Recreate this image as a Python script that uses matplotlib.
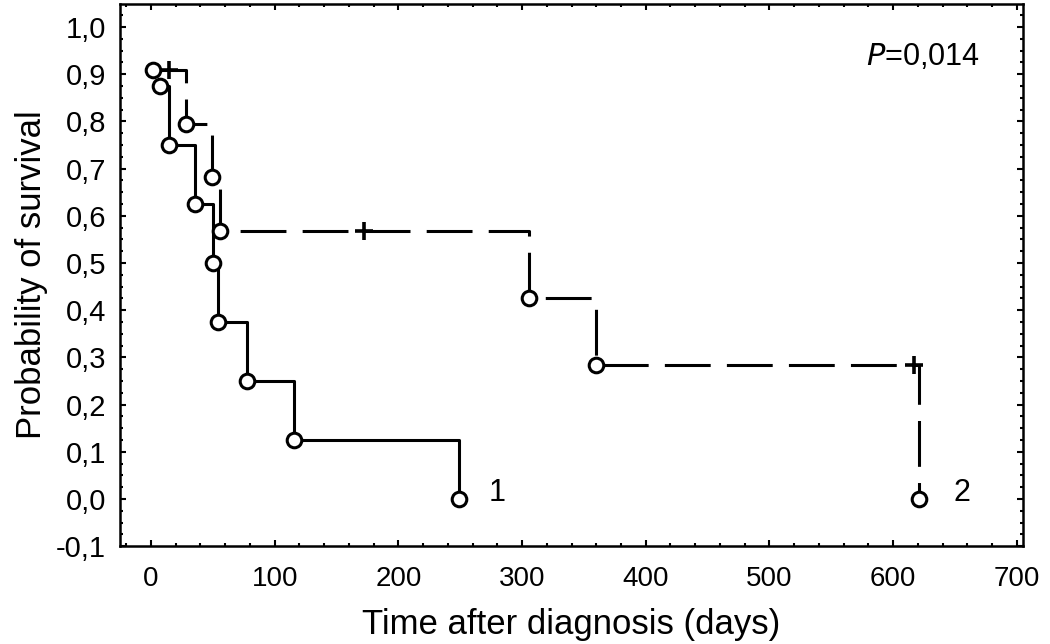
import matplotlib
matplotlib.use("Agg")
import matplotlib.pyplot as plt
from matplotlib.ticker import MultipleLocator, FuncFormatter

# Group 1 (solid): event times and survival after each event
g1_times = [7, 15, 36, 50, 54, 78, 116, 249]
g1_surv = [0.875, 0.75, 0.625, 0.5, 0.375, 0.25, 0.125, 0.0]

# Group 2 (dashed)
g2_times = [2, 28, 49, 56, 306, 360, 621]
g2_surv = [0.909, 0.795, 0.682, 0.568, 0.426, 0.284, 0.0]
g2_cens_times = [15, 172, 617]

xticks = [0, 100, 200, 300, 400, 500, 600, 700]
yticks = [-0.1, 0.0, 0.1, 0.2, 0.3, 0.4, 0.5, 0.6, 0.7, 0.8, 0.9, 1.0]

fig = plt.figure(figsize=(10.5, 6.44), dpi=100)
ax = fig.add_axes([0.1143, 0.152, 0.86, 0.842])

def step_path(times, surv):
    xs, ys = [times[0]], [surv[0]]
    for t, s in zip(times[1:], surv[1:]):
        xs += [t, t]
        ys += [ys[-1], s]
    return xs, ys

def surv_at(times, surv, t):
    val = surv[0]
    for ti, si in zip(times, surv):
        if ti <= t:
            val = si
    return val

lw = 2.2
x1, y1 = step_path(g1_times, g1_surv)
ax.plot(x1, y1, color="black", lw=lw, zorder=2)
x2, y2 = step_path(g2_times, g2_surv)
ax.plot(x2, y2, color="black", lw=lw, dashes=(15, 5.3), zorder=2)

mk = dict(marker="o", ms=10.5, mfc="white", mec="black", mew=2.2, ls="none", zorder=3)
ax.plot(g1_times, g1_surv, **mk)
ax.plot(g2_times, g2_surv, **mk)
cy = [surv_at(g2_times, g2_surv, t) for t in g2_cens_times]
ax.plot(g2_cens_times, cy, marker="+", ms=13, mew=2.6, color="black", ls="none", zorder=4)

ax.set_xlim(-25, 705)
ax.set_ylim(-0.1, 1.049)
ax.set_xticks(xticks)
ax.set_yticks(yticks)
ax.xaxis.set_minor_locator(MultipleLocator(20))
ax.yaxis.set_minor_locator(MultipleLocator(0.025))

fmt = FuncFormatter(lambda v, p: f"{v:.1f}".replace(".", ",").replace("-0,0", "0,0"))
ax.yaxis.set_major_formatter(fmt)

sans = ["Liberation Sans", "DejaVu Sans"]
for lab in ax.get_xticklabels():
    lab.set_fontfamily(sans)
    lab.set_fontsize(20)
for lab in ax.get_yticklabels():
    lab.set_fontfamily(sans)
    lab.set_fontsize(21)

ax.tick_params(which="both", direction="in", top=True, right=True, width=1.5, color="black")
ax.tick_params(which="major", length=4, pad=14)
ax.tick_params(axis="y", which="major", pad=10)
ax.tick_params(which="minor", length=2)
for s in ax.spines.values():
    s.set_linewidth(1.8)

ax.set_xlabel("Time after diagnosis (days)", fontsize=25, family=sans, labelpad=12)
ax.set_ylabel("Probability of survival", fontsize=25, family=sans, labelpad=6)

ax.text(280, 0.013, "1", fontsize=22, family=sans, ha="center", va="center")
ax.text(656, 0.013, "2", fontsize=22, family=sans, ha="center", va="center")
ax.text(0.952, 0.902, r"$\it{P}$=0,014", fontsize=22, family=sans, ha="right", va="center",
        transform=ax.transAxes)

fig.savefig("out.png", dpi=100)
